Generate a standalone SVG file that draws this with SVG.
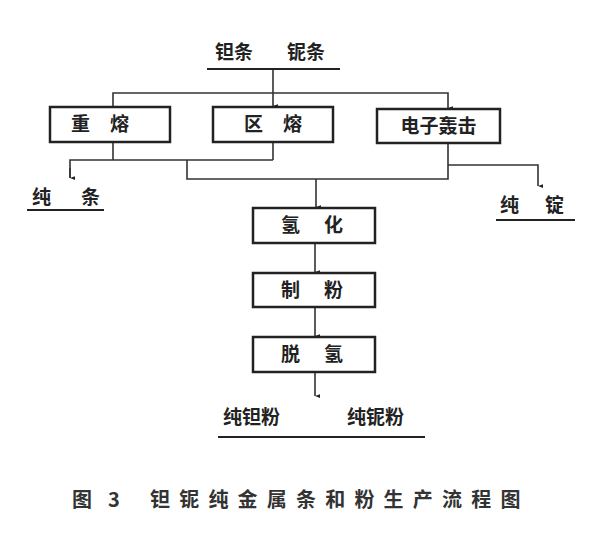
<svg xmlns="http://www.w3.org/2000/svg" width="600" height="553" viewBox="0 0 600 553">
<defs>
<style>
.t{font-family:"Noto Sans CJK SC","Noto Sans",sans-serif;font-size:19px;fill:#222;font-weight:bold}
.b{fill:#fff;stroke:#222;stroke-width:2.5}
.l{fill:none;stroke:#333;stroke-width:1.6}
.u{stroke:#222;stroke-width:2.2}
.cap{font-family:"Noto Sans CJK SC","Noto Sans",sans-serif;font-size:20px;fill:#333;font-weight:bold}
</style>
<marker id="a" viewBox="0 0 6 8" refX="3" refY="8" markerWidth="4" markerHeight="5" orient="auto-start-reverse" markerUnits="userSpaceOnUse">
<path d="M0,0 L6,0 L3,8 Z" fill="#222"/>
</marker>
</defs>
<rect width="600" height="553" fill="#fff"/>
<g id="connectors">
<line class="l" x1="273" y1="70" x2="273" y2="93"/>
<polyline class="l" points="113,107 113,93 448,93 448,108" marker-end="url(#a)"/>
<line class="l" x1="273" y1="93" x2="273" y2="106" marker-end="url(#a)"/>
<polyline class="l" points="113,142 113,160"/>
<polyline class="l" points="273,142 273,160"/>
<polyline class="l" points="70,178 70,160 273,160"/>
<path class="l" d="M70,168 L70,178" marker-end="url(#a)"/>
<polyline class="l" points="187,160 187,179 448,179 448,143"/>
<polyline class="l" points="448,165 538,165 538,186" marker-end="url(#a)"/>
<line class="l" x1="316" y1="179" x2="316" y2="207" marker-end="url(#a)"/>
<line class="l" x1="315" y1="243" x2="315" y2="272" marker-end="url(#a)"/>
<line class="l" x1="315" y1="307" x2="315" y2="336" marker-end="url(#a)"/>
<line class="l" x1="315" y1="372" x2="315" y2="396" marker-end="url(#a)"/>
</g>
<g id="top">
<text class="t" x="215" y="59">钽条</text>
<text class="t" x="287" y="59">铌条</text>
<line class="u" x1="207" y1="69" x2="340" y2="69"/>
</g>
<g id="n1"><rect class="b" x="50" y="107" width="120" height="35"/><text class="t" x="110" y="131" text-anchor="middle" letter-spacing="20">重熔</text></g>
<g id="n2"><rect class="b" x="213" y="107" width="120" height="35"/><text class="t" x="283" y="131" text-anchor="middle" letter-spacing="20">区熔</text></g>
<g id="n3"><rect class="b" x="377" y="109" width="123" height="34"/><text class="t" x="438.500" y="133" text-anchor="middle">电子轰击</text></g>
<g id="o1"><text class="t" x="32" y="204" letter-spacing="30">纯条</text><line class="u" x1="27" y1="210" x2="104" y2="210"/></g>
<g id="o2"><text class="t" x="500" y="212" letter-spacing="26">纯锭</text><line class="u" x1="496" y1="220" x2="575" y2="220"/></g>
<g id="n4"><rect class="b" x="253" y="208" width="122" height="35"/><text class="t" x="324" y="232" text-anchor="middle" letter-spacing="24">氢化</text></g>
<g id="n5"><rect class="b" x="253" y="273" width="122" height="34"/><text class="t" x="324" y="297" text-anchor="middle" letter-spacing="24">制粉</text></g>
<g id="n6"><rect class="b" x="253" y="337" width="122" height="35"/><text class="t" x="324" y="361" text-anchor="middle" letter-spacing="24">脱氢</text></g>
<g id="o3"><text class="t" x="223" y="424" font-size="18">纯钽粉</text><text class="t" x="347" y="424" font-size="18">纯铌粉</text><line class="u" x1="218" y1="437" x2="425" y2="437"/></g>
<text class="cap" x="72" y="507">图</text>
<text class="cap" x="108" y="507">3</text>
<text class="cap" x="150" y="507" letter-spacing="9.2">钽铌纯金属条和粉生产流程图</text>
</svg>
